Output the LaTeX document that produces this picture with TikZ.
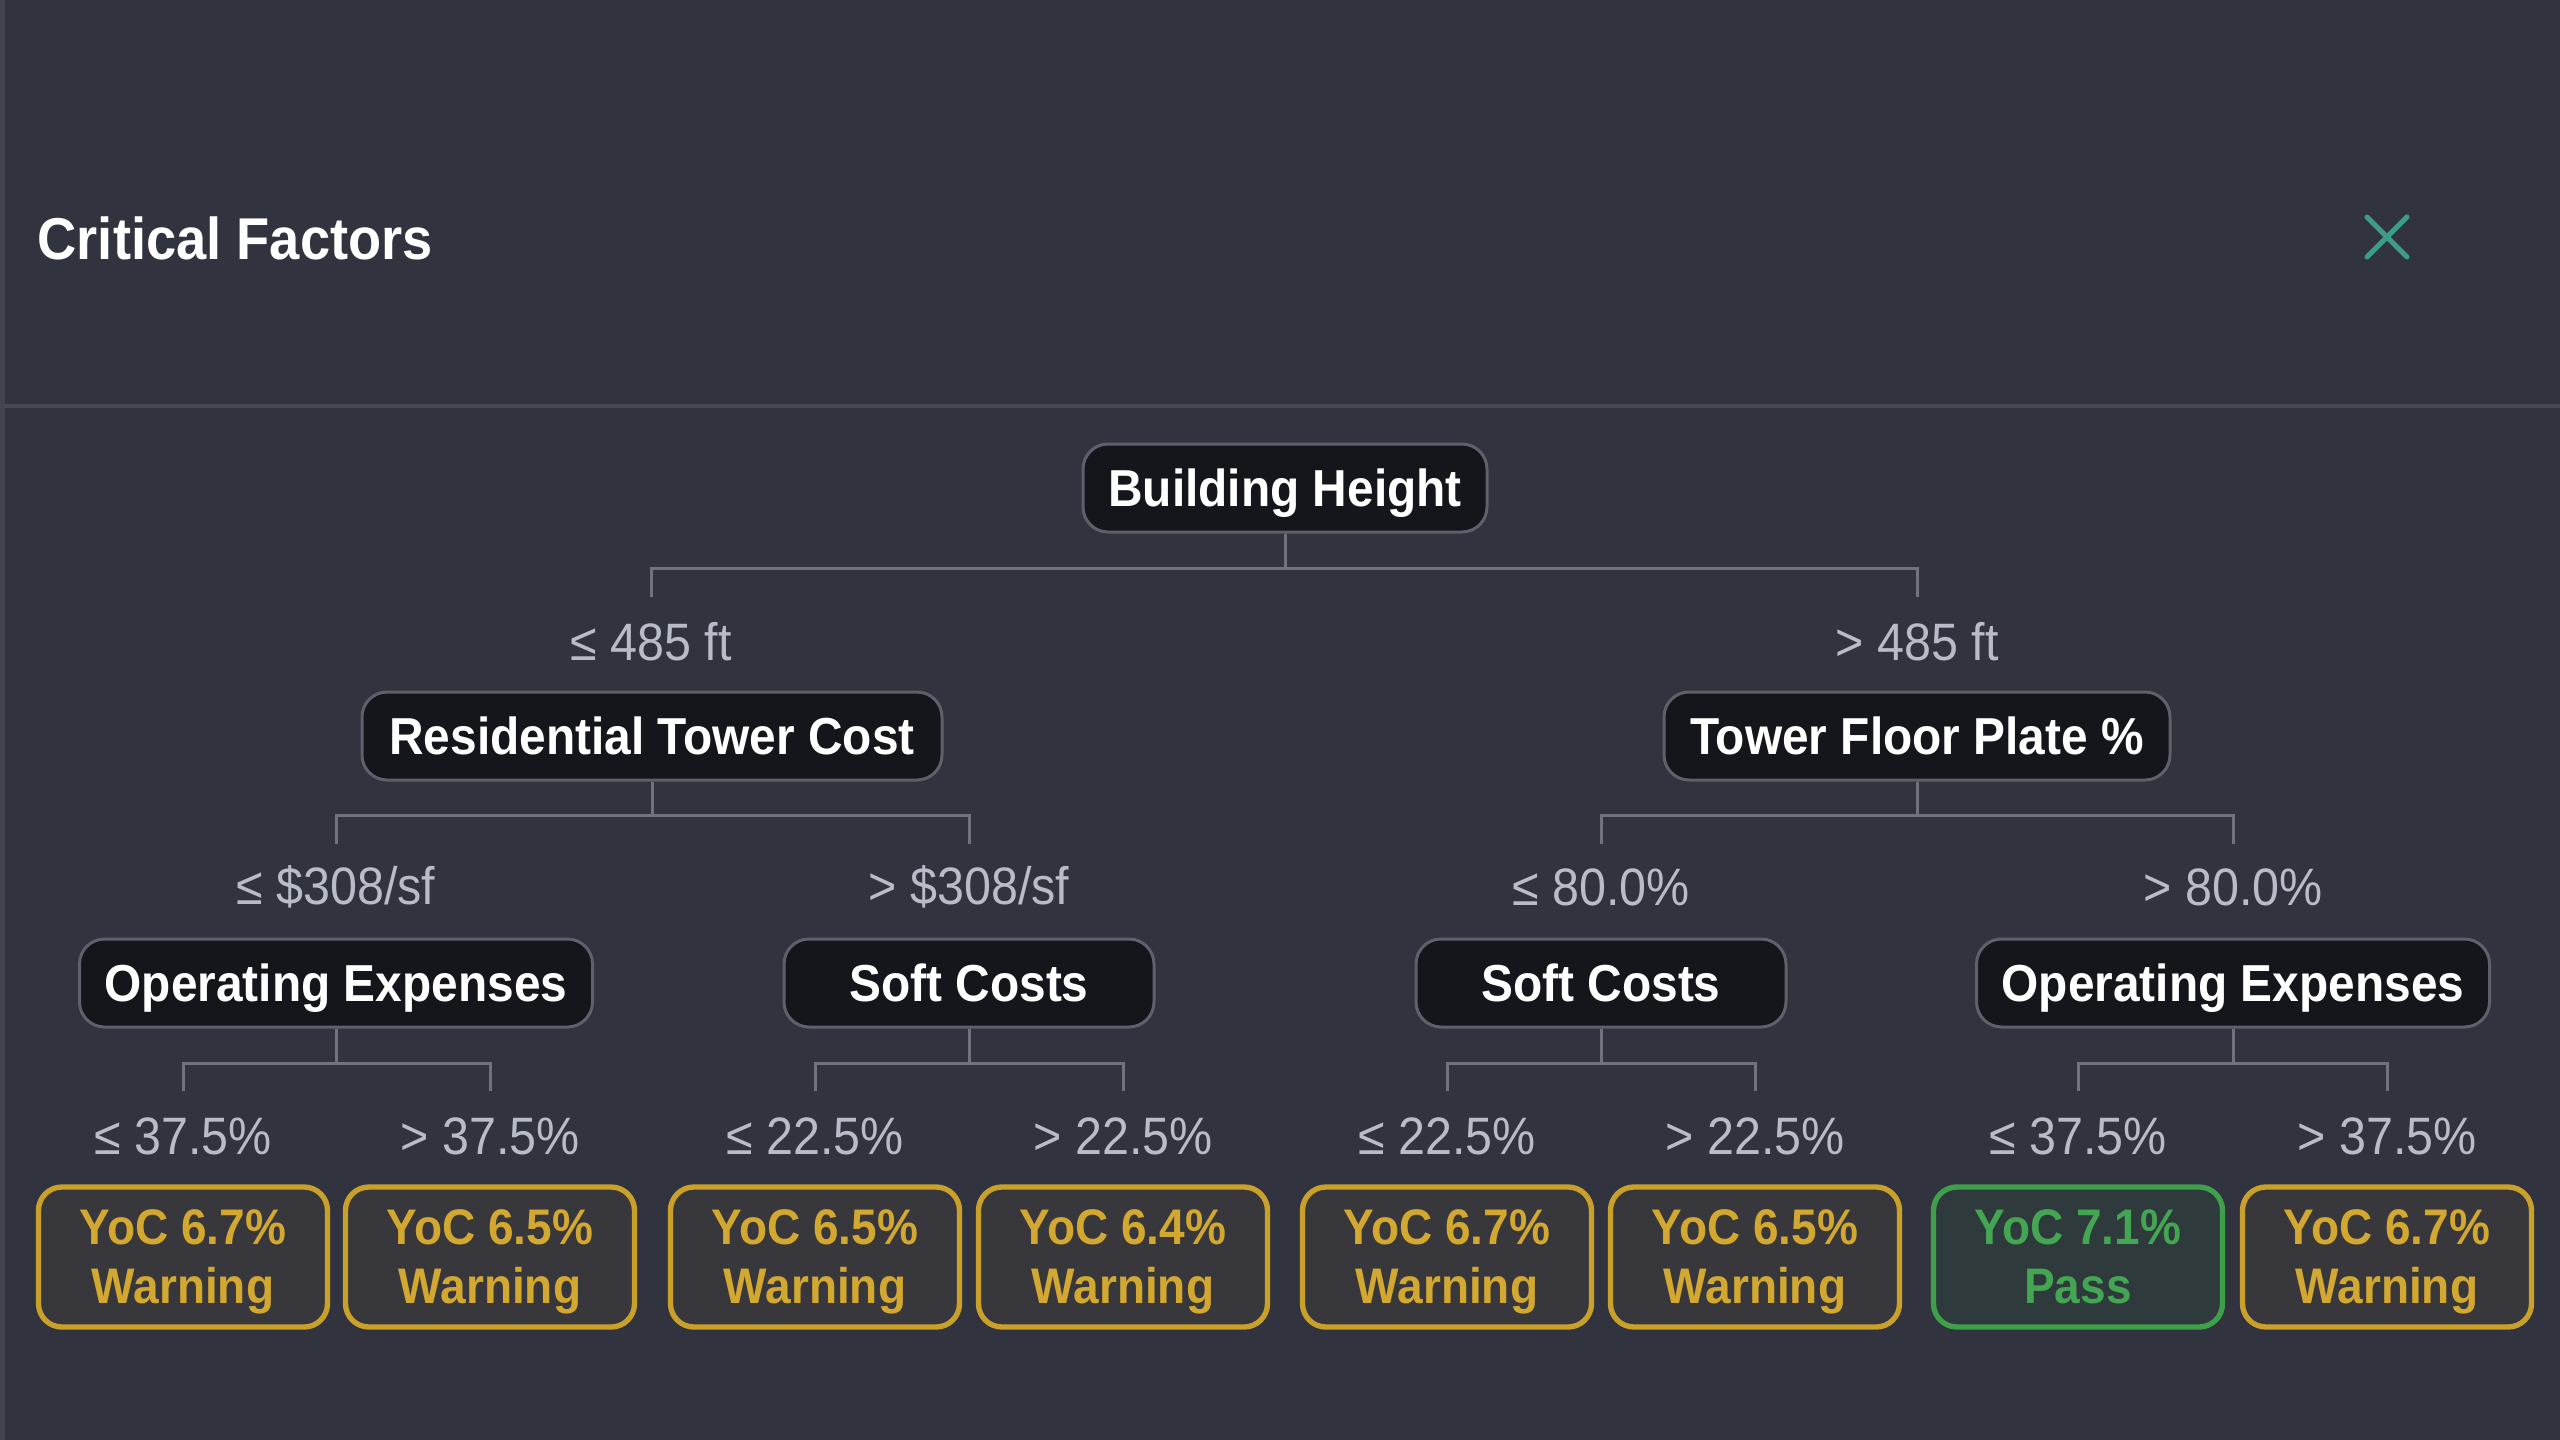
\documentclass[tikz,border=0pt]{standalone}
\usepackage{fontspec}
\newfontfamily\uif{Liberation Sans}[FakeStretch=0.92]
\definecolor{bgc}{HTML}{31333F}
\definecolor{edgec}{HTML}{41434F}
\definecolor{sepc}{HTML}{464955}
\definecolor{nodefill}{HTML}{15161B}
\definecolor{nodeline}{HTML}{5E616C}
\definecolor{connc}{HTML}{6F737E}
\definecolor{condtext}{HTML}{B7BCC8}
\definecolor{goldc}{HTML}{C9A02A}
\definecolor{goldtext}{HTML}{D2A830}
\definecolor{leaffill}{HTML}{38383C}
\definecolor{greenc}{HTML}{3F9F4B}
\definecolor{greentext}{HTML}{44A552}
\definecolor{passfill}{HTML}{2F3A3C}
\definecolor{closec}{HTML}{3C9C85}
\begin{document}
\begin{tikzpicture}[x=0.3pt,y=-0.3pt,
  decision/.style={draw=nodeline, line width=0.9pt, fill=nodefill, rounded corners=7.5pt,
    minimum height=26.4pt, inner sep=0pt, text=white, text depth=0pt,
    font=\uif\bfseries\fontsize{15.6}{18}\selectfont},
  cond/.style={text=condtext, inner sep=0pt, font=\uif\fontsize{15.8}{18}\selectfont},
  leafw/.style={draw=goldc, line width=1.6pt, fill=leaffill, rounded corners=7pt,
    minimum width=86.7pt, minimum height=42pt, inner sep=0pt, align=center, text=goldtext,
    font=\uif\bfseries\fontsize{15}{17.7}\selectfont},
  leafp/.style={leafw, draw=greenc, fill=passfill, text=greentext},
  conn/.style={draw=connc, line width=0.9pt}
]
\fill[bgc] (0,0) rectangle (2560,1440);
\useasboundingbox (0,0) rectangle (2560,1440);
\fill[edgec] (0,0) rectangle (5,1440);
\draw[sepc, line width=1.2pt] (5,406) -- (2560,406);

\node[anchor=west, text=white, inner sep=0pt, font=\uif\bfseries\fontsize{17.7}{20}\selectfont] (title) at (37,238) {Critical Factors};
\coordinate (x1) at (2367,217); \coordinate (x2) at (2407,257);
\coordinate (x3) at (2367,257); \coordinate (x4) at (2407,217);
\draw[closec, line width=1.5pt, line cap=round] (x1) -- (x2) (x3) -- (x4);

% level 0
\node[decision, minimum width=121.2pt] (bh) at (1285,488) {Building Height};
% level 1
\node[decision, minimum width=174pt] (rtc) at (652,736) {Residential Tower Cost};
\node[decision, minimum width=151.8pt] (tfp) at (1917,736) {Tower Floor Plate \%};
\node[cond] (c1a) at (651,642) {≤ 485 ft};
\node[cond] (c1b) at (1917,642) {> 485 ft};
% level 2
\node[decision, minimum width=153.9pt] (oe1) at (336,983) {Operating Expenses};
\node[decision, minimum width=111pt] (sc1) at (969,983) {Soft Costs};
\node[decision, minimum width=111pt] (sc2) at (1601,983) {Soft Costs};
\node[decision, minimum width=153.9pt] (oe2) at (2233,983) {Operating Expenses};
\node[cond] (c2a) at (336,887) {≤ \$308/sf};
\node[cond] (c2b) at (969,887) {> \$308/sf};
\node[cond] (c2c) at (1601,887) {≤ 80.0\%};
\node[cond] (c2d) at (2233,887) {> 80.0\%};
% leaves
\node[leafw] (l1) at (183,1257) {YoC 6.7\%\\\smash{Warning}};
\node[leafw] (l2) at (490,1257) {YoC 6.5\%\\\smash{Warning}};
\node[leafw] (l3) at (815,1257) {YoC 6.5\%\\\smash{Warning}};
\node[leafw] (l4) at (1123,1257) {YoC 6.4\%\\\smash{Warning}};
\node[leafw] (l5) at (1447,1257) {YoC 6.7\%\\\smash{Warning}};
\node[leafw] (l6) at (1755,1257) {YoC 6.5\%\\\smash{Warning}};
\node[leafp] (l7) at (2078,1257) {YoC 7.1\%\\\smash{Pass}};
\node[leafw] (l8) at (2387,1257) {YoC 6.7\%\\\smash{Warning}};
\node[cond] (c3a) at (183,1136) {≤ 37.5\%};
\node[cond] (c3b) at (490,1136) {> 37.5\%};
\node[cond] (c3c) at (815,1136) {≤ 22.5\%};
\node[cond] (c3d) at (1123,1136) {> 22.5\%};
\node[cond] (c3e) at (1447,1136) {≤ 22.5\%};
\node[cond] (c3f) at (1755,1136) {> 22.5\%};
\node[cond] (c3g) at (2078,1136) {≤ 37.5\%};
\node[cond] (c3h) at (2387,1136) {> 37.5\%};

% connectors
\coordinate (t0a) at (651,597); \coordinate (t0b) at (1917,597);
\draw[conn] (bh.south) -- (bh.south |- 0,568);
\draw[conn] (t0a) -- (651,568) -| (t0b);

\coordinate (t1a) at (336,844); \coordinate (t1b) at (969,844);
\coordinate (t1c) at (1601,844); \coordinate (t1d) at (2233,844);
\draw[conn] (rtc.south) -- (rtc.south |- 0,815);
\draw[conn] (tfp.south) -- (tfp.south |- 0,815);
\draw[conn] (t1a) -- (336,815) -| (t1b);
\draw[conn] (t1c) -- (1601,815) -| (t1d);

\coordinate (t2a) at (183,1091); \coordinate (t2b) at (490,1091);
\coordinate (t2c) at (815,1091); \coordinate (t2d) at (1123,1091);
\coordinate (t2e) at (1447,1091); \coordinate (t2f) at (1755,1091);
\coordinate (t2g) at (2078,1091); \coordinate (t2h) at (2387,1091);
\draw[conn] (oe1.south) -- (oe1.south |- 0,1063);
\draw[conn] (sc1.south) -- (sc1.south |- 0,1063);
\draw[conn] (sc2.south) -- (sc2.south |- 0,1063);
\draw[conn] (oe2.south) -- (oe2.south |- 0,1063);
\draw[conn] (t2a) -- (183,1063) -| (t2b);
\draw[conn] (t2c) -- (815,1063) -| (t2d);
\draw[conn] (t2e) -- (1447,1063) -| (t2f);
\draw[conn] (t2g) -- (2078,1063) -| (t2h);
\end{tikzpicture}
\end{document}
